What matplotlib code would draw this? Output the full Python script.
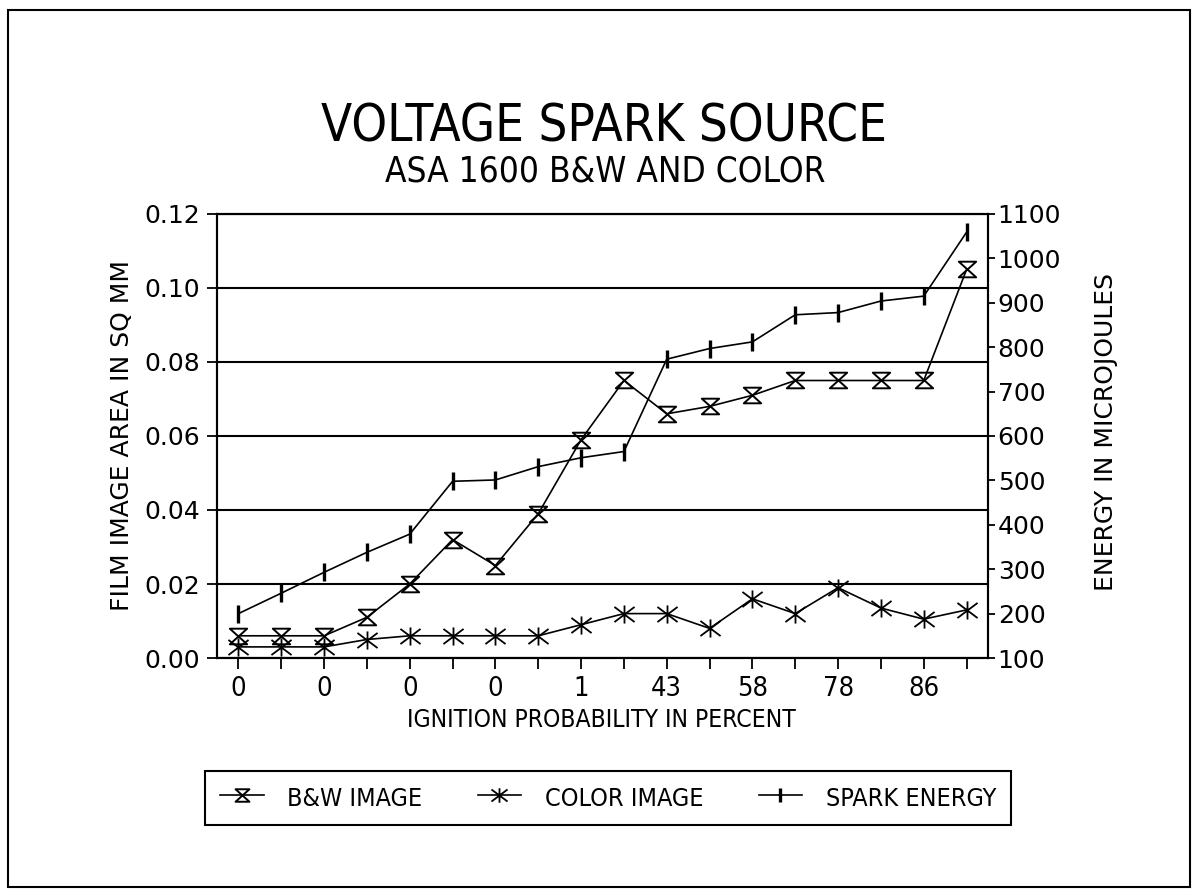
import matplotlib
matplotlib.use("Agg")
import matplotlib.pyplot as plt
from matplotlib import font_manager as fm
from matplotlib.path import Path
from matplotlib.lines import Line2D
from matplotlib.patches import Rectangle

# ---- data ----
ignition_labels = ["0", "", "0", "", "0", "", "0", "", "1", "",
                   "43", "", "58", "", "78", "", "86", ""]
bw_area = [0.006, 0.006, 0.006, 0.011, 0.020, 0.032, 0.025, 0.039, 0.059,
           0.075, 0.066, 0.068, 0.071, 0.075, 0.075, 0.075, 0.075, 0.105]
color_area = [0.003, 0.003, 0.003, 0.005, 0.006, 0.006, 0.006, 0.006, 0.009,
              0.012, 0.012, 0.008, 0.016, 0.012, 0.019, 0.0135, 0.0105, 0.013]
spark_energy = [200, 246, 293, 338, 379, 498, 501, 531, 551,
                565, 773, 797, 812, 873, 878, 904, 915, 1059]

left_ticks = [0.00, 0.02, 0.04, 0.06, 0.08, 0.10, 0.12]
right_ticks = [100, 200, 300, 400, 500, 600, 700, 800, 900, 1000, 1100]


def narrow_font():
    """Pick a regular, upright, slightly condensed sans face if one is installed."""
    def regular(f):
        return f.style == "normal" and str(f.weight) in ("400", "normal", "regular", "book")

    entries = [f for f in fm.fontManager.ttflist if regular(f)]
    for want in ("semi-condensed", "condensed"):
        for f in entries:
            if str(f.stretch) == want and "Sans" in f.name and "Mono" not in f.name:
                return fm.FontProperties(fname=f.fname)
    for f in entries:
        if ("Narrow" in f.name or "Condensed" in f.name) and "Mono" not in f.name:
            return fm.FontProperties(fname=f.fname)
    return fm.FontProperties(family="DejaVu Sans")


NARROW = narrow_font()
REG = fm.FontProperties(family="DejaVu Sans")


def fp(base, size):
    p = base.copy()
    p.set_size(size)
    return p


# ---- custom markers ----
hourglass = Path([(-1, 0.9), (1, 0.9), (-1, -0.9), (1, -0.9), (-1, 0.9)],
                 [Path.MOVETO, Path.LINETO, Path.LINETO, Path.LINETO, Path.CLOSEPOLY])
asterisk = Path([(0, -0.9), (0, 0.9), (-1, -0.75), (1, 0.75), (-1, 0.75), (1, -0.75)],
                [Path.MOVETO, Path.LINETO, Path.MOVETO, Path.LINETO, Path.MOVETO, Path.LINETO])

bw_style = dict(color="black", lw=1.2, marker=hourglass, markersize=12.5,
                markerfacecolor="none", markeredgecolor="black", markeredgewidth=1.4)
color_style = dict(color="black", lw=1.2, marker=asterisk, markersize=14.5,
                   markeredgecolor="black", markeredgewidth=1.3)
spark_style = dict(color="black", lw=1.2, marker="|", markersize=12.5,
                   markeredgecolor="black", markeredgewidth=2.4)

W, H = 1201, 893
fig = plt.figure(figsize=(W / 100, H / 100), dpi=100)
fig.patch.set_facecolor("white")

# outer frame
fig.patches.append(Rectangle((8 / W, 1 - 887 / H), (1190 - 8) / W, (887 - 10) / H,
                             transform=fig.transFigure, fill=False,
                             edgecolor="black", lw=1.5))

ax = fig.add_axes([217 / W, 1 - 658 / H, (988 - 217) / W, (658 - 214) / H])
ax2 = ax.twinx()

x = list(range(len(ignition_labels)))

ax.plot(x, bw_area, **bw_style, zorder=3)
ax.plot(x, color_area, **color_style, zorder=3)
ax2.plot(x, spark_energy, **spark_style, zorder=3)

ax.set_xlim(-0.5, len(x) - 0.5)
ax.set_ylim(0, 0.12)
ax2.set_ylim(100, 1100)

ax.set_yticks(left_ticks)
ax.set_yticklabels([f"{v:.2f}" for v in left_ticks], fontproperties=fp(REG, 18))
ax2.set_yticks(right_ticks)
ax2.set_yticklabels([str(v) for v in right_ticks], fontproperties=fp(REG, 18))
ax.set_xticks(x)
ax.set_xticklabels(ignition_labels, fontproperties=fp(NARROW, 21))

ax.yaxis.grid(True, color="black", lw=1.5)
ax.set_axisbelow(True)

for a in (ax, ax2):
    for s in a.spines.values():
        s.set_linewidth(1.5)
        s.set_color("black")
ax.tick_params(axis="y", direction="out", length=7, width=1.3, pad=5)
ax.tick_params(axis="x", direction="out", length=8, width=1.3, pad=5)
ax2.tick_params(axis="y", direction="out", length=5, width=1.3, pad=2)

ax.set_ylabel("FILM IMAGE AREA IN SQ MM", fontproperties=fp(REG, 18), va="center")
ax.yaxis.set_label_coords((122 - 217) / (988 - 217), 0.5)
ax2.set_ylabel("ENERGY IN MICROJOULES", fontproperties=fp(REG, 18), va="center")
ax2.yaxis.set_label_coords((1106 - 217) / (988 - 217), 0.51)

xlab = ax.set_xlabel("IGNITION PROBABILITY IN PERCENT", fontproperties=fp(NARROW, 19.5),
                     va="center")
ax.xaxis.set_label_coords((601 - 217) / (988 - 217), -(720 - 658) / (658 - 214))

title = fig.text(604 / W, 1 - 127 / H, "VOLTAGE SPARK SOURCE",
                 fontproperties=fp(NARROW, 38), ha="center", va="center")
subtitle = fig.text(605 / W, 1 - 171 / H, "ASA 1600 B&W AND COLOR",
                    fontproperties=fp(NARROW, 28), ha="center", va="center")

handles = [Line2D([], [], **bw_style), Line2D([], [], **color_style),
           Line2D([], [], **spark_style)]
leg = fig.legend(handles, ["B&W IMAGE", "COLOR IMAGE", "SPARK ENERGY"],
                 loc="center", bbox_to_anchor=(608 / W, 1 - 798 / H), ncol=3,
                 prop=fp(NARROW, 21), frameon=True, fancybox=False,
                 edgecolor="black", framealpha=1, handlelength=1.5, handletextpad=0.8,
                 columnspacing=1.9, borderpad=0.5, markerscale=0.8)
leg.get_frame().set_linewidth(1.5)

# size the narrow-font texts to the widths they occupy on the page
fig.canvas.draw()
renderer = fig.canvas.get_renderer()


def fit(texts, target_px):
    w = sum(t.get_window_extent(renderer).width for t in texts)
    k = target_px / w
    for t in texts:
        t.set_fontsize(t.get_fontsize() * k)


fit([title], 565)
fit([subtitle], 440)
fit([xlab], 390)
fit(leg.get_texts(), 134 + 154 + 175)
tick43 = [t for t in ax.get_xticklabels() if t.get_text() == "43"]
if tick43:
    k = 31 / tick43[0].get_window_extent(renderer).width
    for t in ax.get_xticklabels():
        t.set_fontsize(t.get_fontsize() * k)

fig.savefig("out.png", dpi=100, facecolor="white")
